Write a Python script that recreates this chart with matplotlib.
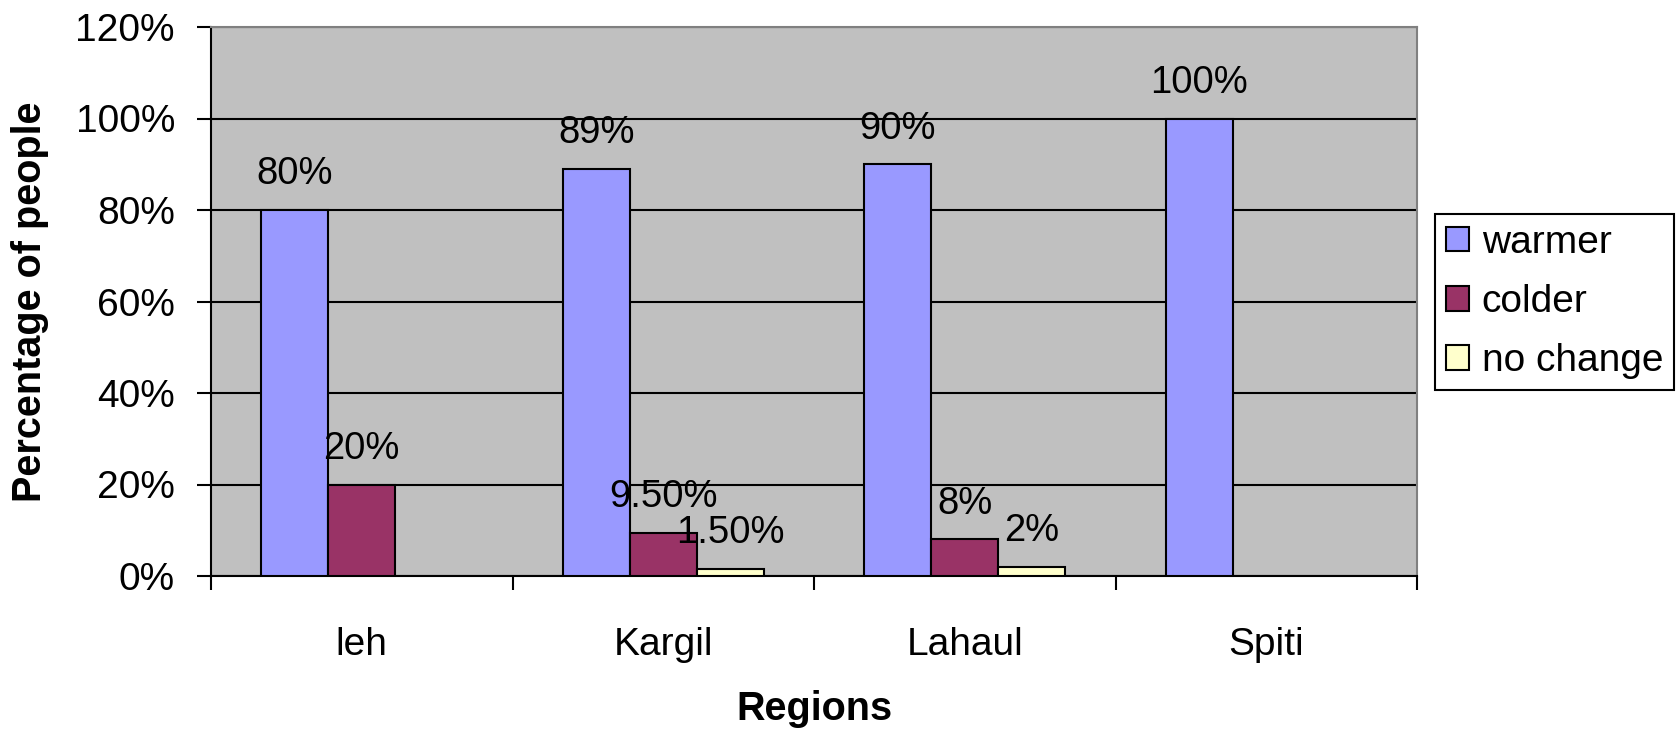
import matplotlib.pyplot as plt
import matplotlib.ticker as ticker
import numpy as np

#
# Data
#

regions = ['leh', 'Kargil', 'Lahaul', 'Spiti']
series_names = ['warmer', 'colder', 'no change']
warmer = [80, 89, 90, 100]
colder = [20, 9.5, 8, np.nan]
no_change = [np.nan, 1.5, 2, np.nan]
warmer_labels = ['80%', '89%', '90%', '100%']
colder_labels = ['20%', '9.50%', '8%', '']
no_change_labels = ['', '1.50%', '2%', '']

colors = ['#9999FF', '#993366', '#FFFFCC']

#
# Graph
#

plt.rcParams['font.family'] = ['Liberation Sans', 'DejaVu Sans']

fig = plt.figure(figsize=(16.8, 7.3), dpi=100)
ax = fig.add_axes([211 / 1680, 1 - 576 / 730, 1206 / 1680, 549 / 730])
ax.set_facecolor('#C0C0C0')

x = np.arange(len(regions))
width = 1 / 4.5
all_values = [warmer, colder, no_change]
all_labels = [warmer_labels, colder_labels, no_change_labels]

for i, (values, labels) in enumerate(zip(all_values, all_labels)):
    pos = x + (i - 1) * width
    ax.bar(pos, values, width, color=colors[i], edgecolor='black',
           linewidth=1.5, label=series_names[i], zorder=3)
    for px, val, lab in zip(pos, values, labels):
        if lab:
            ax.annotate(lab, (px, val), xytext=(0, 18.5), textcoords='offset points',
                        ha='center', va='baseline', fontsize=27.5, zorder=4)

# gridlines
ax.set_ylim(0, 120)
ax.set_xlim(-0.5, len(regions) - 0.5)
ax.yaxis.set_major_locator(ticker.MultipleLocator(20))
ax.yaxis.set_major_formatter(ticker.PercentFormatter(100, decimals=0))
ax.grid(axis='y', color='black', linewidth=1.5, zorder=1)
ax.set_axisbelow(True)

ax.set_xticks(x)
ax.set_xticklabels(regions)
ax.set_xticks(np.arange(-0.5, len(regions)), minor=True)
ax.tick_params(axis='x', which='major', length=0, pad=37, labelsize=28)
ax.tick_params(axis='x', which='minor', length=10, width=1.5, direction='out')
ax.tick_params(axis='y', length=10, width=1.5, direction='out', pad=16, labelsize=28)

for side in ['left', 'bottom']:
    ax.spines[side].set_color('black')
    ax.spines[side].set_linewidth(1.5)
for side in ['top', 'right']:
    ax.spines[side].set_color('#808080')
    ax.spines[side].set_linewidth(1.5)

ax.set_xlabel('Regions', fontsize=28.5, fontweight='bold', labelpad=19)
ax.set_ylabel('Percentage of people', fontsize=28.5, fontweight='bold', labelpad=19)

leg = fig.legend(loc='center left', bbox_to_anchor=(1435 / 1680, 1 - 302 / 730),
                 borderaxespad=0, fontsize=28, handlelength=0.59, handleheight=0.59,
                 handletextpad=0.33, labelspacing=0.6, borderpad=0.28,
                 fancybox=False, framealpha=1, edgecolor='black')
leg.get_frame().set_linewidth(1.5)

fig.savefig('out.png', dpi=100)
